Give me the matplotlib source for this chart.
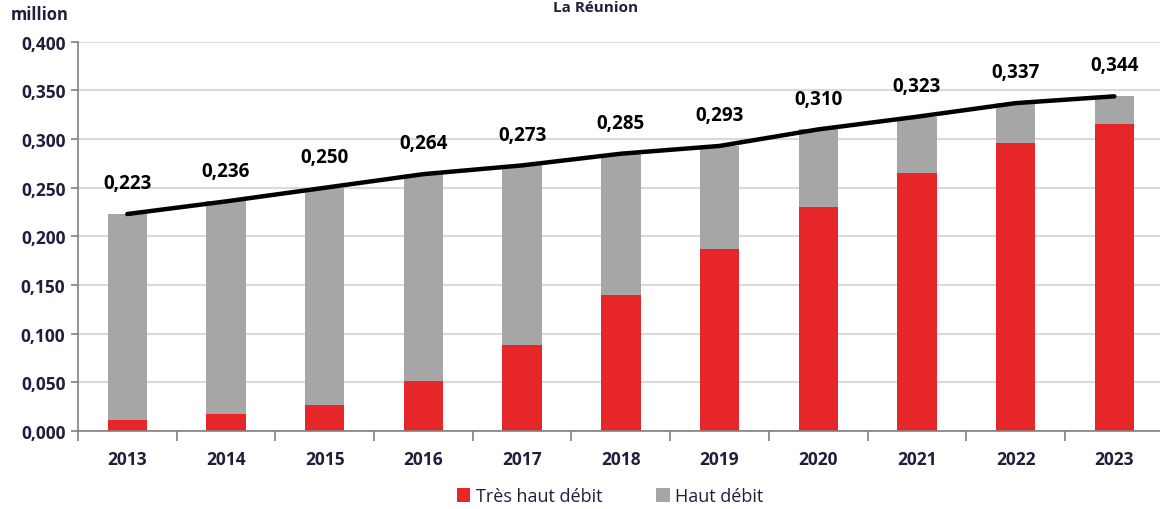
import matplotlib.pyplot as plt
import numpy as np

plt.rcParams['font.family'] = ['Open Sans', 'DejaVu Sans']

# Données La Réunion (millions d'accès)
years = ['2013', '2014', '2015', '2016', '2017', '2018', '2019', '2020', '2021', '2022', '2023']
total = [0.223, 0.236, 0.250, 0.264, 0.273, 0.285, 0.293, 0.310, 0.323, 0.337, 0.344]
tres_haut_debit = [0.011, 0.017, 0.027, 0.051, 0.088, 0.140, 0.187, 0.230, 0.265, 0.296, 0.316]
haut_debit = [t - r for t, r in zip(total, tres_haut_debit)]

navy = '#1f1f3d'
red = '#e62628'
grey = '#a6a6a6'

fig = plt.figure(figsize=(11.6, 5.1), dpi=100)
ax = fig.add_axes([0.0672, 0.153, 0.936, 0.763])

x = np.arange(len(years))
ax.bar(x, tres_haut_debit, width=0.4, color=red, label='Très haut débit', zorder=2)
ax.bar(x, haut_debit, width=0.4, bottom=tres_haut_debit, color=grey, label='Haut débit', zorder=2)
ax.plot(x, total, color='black', linewidth=3.2, solid_capstyle='round', zorder=3)

# étiquettes des totaux
for xi, v in zip(x, total):
    ax.annotate('{:.3f}'.format(v).replace('.', ','), (xi, v), xytext=(0, 15),
                textcoords='offset points', ha='center', va='bottom',
                fontsize=13.5, fontweight='bold', color='black')

ax.set_xlim(-0.5, len(years) - 0.5)
ax.set_ylim(0, 0.4)
yt = np.arange(0, 0.401, 0.05)
ax.set_yticks(yt)
ax.set_yticklabels(['{:.3f}'.format(v).replace('.', ',') for v in yt],
                   fontsize=12.5, fontweight='bold', color=navy)
ax.set_xticks(x)
ax.set_xticklabels(years, fontsize=12.5, fontweight='bold', color=navy)
ax.tick_params(axis='x', length=0, pad=14)
ax.set_xticks(np.arange(-0.5, len(years), 1), minor=True)
ax.tick_params(axis='x', which='minor', length=7, color='#808080', width=1.2)
ax.tick_params(axis='y', length=5, color='#808080', width=1.2, pad=4)

ax.grid(axis='y', color='#d9d9d9', linewidth=1.5, zorder=0)
ax.set_axisbelow(True)
for s in ['top', 'right']:
    ax.spines[s].set_visible(False)
for s in ['left', 'bottom']:
    ax.spines[s].set_color('#808080')
    ax.spines[s].set_linewidth(1.2)

fig.text(0.009, 0.97, 'million', fontsize=12, fontweight='bold', color=navy, ha='left', va='center')
fig.text(0.513, 0.998, 'La Réunion', fontsize=11, fontweight='bold', color=navy, ha='center', va='top')

ax.legend(loc='center', bbox_to_anchor=(0.49, -0.168), ncol=2, frameon=False,
          fontsize=13, handlelength=0.75, handleheight=0.75, columnspacing=3,
          handletextpad=0.3, labelcolor=navy)

plt.savefig('out.png', dpi=100)
